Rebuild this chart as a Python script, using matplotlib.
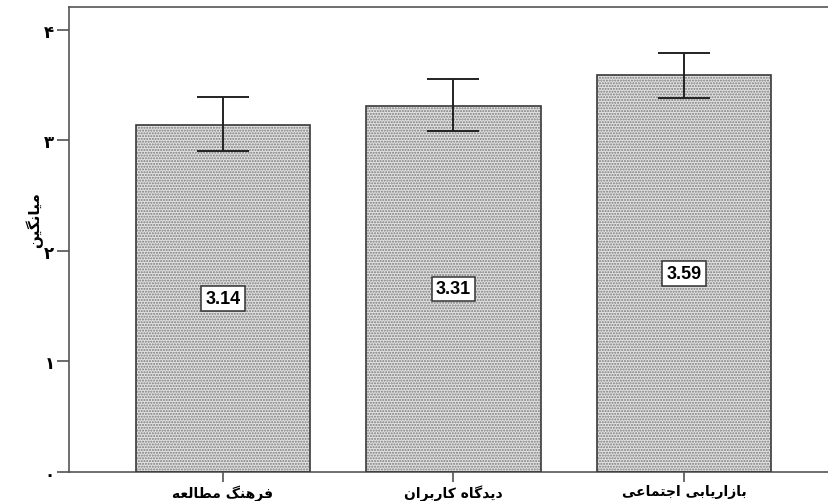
import matplotlib
matplotlib.use('Agg')
import matplotlib.pyplot as plt

# Persian text is pre-shaped (presentation forms, visual order) because
# matplotlib does no Arabic shaping or bidi on its own
def shape(codes):
    return ''.join(chr(c) for c in reversed(codes))

categories = [
    shape([0xFED3, 0xFEAE, 0xFEEB, 0xFEE8, 0xFB93, 0x20,
           0xFEE3, 0xFEC4, 0xFE8E, 0xFEDF, 0xFECC, 0xFEEA]),            # فرهنگ مطالعه
    shape([0xFEA9, 0xFBFE, 0xFEAA, 0xFB94, 0xFE8E, 0xFEE9, 0x20,
           0xFB90, 0xFE8E, 0xFEAD, 0xFE91, 0xFEAE, 0xFE8D, 0xFEE5]),    # دیدگاه کاربران
    shape([0xFE91, 0xFE8E, 0xFEAF, 0xFE8D, 0xFEAD, 0xFBFE, 0xFE8E, 0xFE91, 0xFBFD, 0x20,
           0xFE8D, 0xFE9F, 0xFE98, 0xFEE4, 0xFE8E, 0xFECB, 0xFBFD]),    # بازاریابی اجتماعی
]
means = [3.14, 3.31, 3.59]
ci_low = [2.90, 3.08, 3.38]
ci_high = [3.39, 3.55, 3.79]
y_ticks = [0, 1, 2, 3, 4]
y_ticklabels = ['\u06f0', '\u06f1', '\u06f2', '\u06f3', '\u06f4']
y_label = shape([0xFEE3, 0xFBFF, 0xFE8E, 0xFEE7, 0xFB95, 0xFBFF, 0xFEE6])  # میانگین

plt.rcParams['font.family'] = ['DejaVu Sans']

fig = plt.figure(figsize=(8.29, 5.02), dpi=100)
ax = fig.add_axes([69 / 829, 29 / 502, (838 - 69) / 829, (473 - 8) / 502])

x = list(range(len(means)))
# dotted fill, then the dark outline on top
ax.bar(x, means, width=0.755, color='#e2e2e2', edgecolor='#7a7a7a',
       hatch='......', linewidth=0, zorder=2)
ax.bar(x, means, width=0.755, fill=False, edgecolor='#3a3a3a',
       linewidth=1.2, zorder=3)

yerr = [[m - lo for m, lo in zip(means, ci_low)],
        [hi - m for m, hi in zip(means, ci_high)]]
ax.errorbar(x, means, yerr=yerr, fmt='none', ecolor='#222222',
            elinewidth=1.4, capsize=18.5, capthick=1.4, zorder=4)

for xi, m in zip(x, means):
    ax.text(xi, m / 2, f'{m:.2f}', ha='center', va='center',
            family='Liberation Sans', fontweight='bold', fontsize=13,
            bbox=dict(boxstyle='square,pad=0.22', facecolor='white',
                      edgecolor='#333333', linewidth=1.1), zorder=5)

ax.set_xlim(-0.668, 2.668)
ax.set_ylim(0, 4.205)
ax.set_xticks(x)
ax.set_xticklabels(categories, fontsize=10, fontweight='bold')
ax.set_yticks(y_ticks)
ax.set_yticklabels(y_ticklabels, fontsize=12, fontweight='bold')
ax.set_ylabel(y_label, fontsize=11, fontweight='bold', labelpad=0)
ax.yaxis.set_label_coords(-26 / 769, 0.545)

ax.tick_params(axis='y', direction='out', length=8.5, width=1.1,
               color='#444444', pad=2)
ax.tick_params(axis='x', direction='out', length=7, width=1.1,
               color='#444444', pad=2)
for side in ['left', 'right', 'top', 'bottom']:
    ax.spines[side].set_color('#555555')
    ax.spines[side].set_linewidth(1.2)

fig.savefig('out.png', dpi=100)
